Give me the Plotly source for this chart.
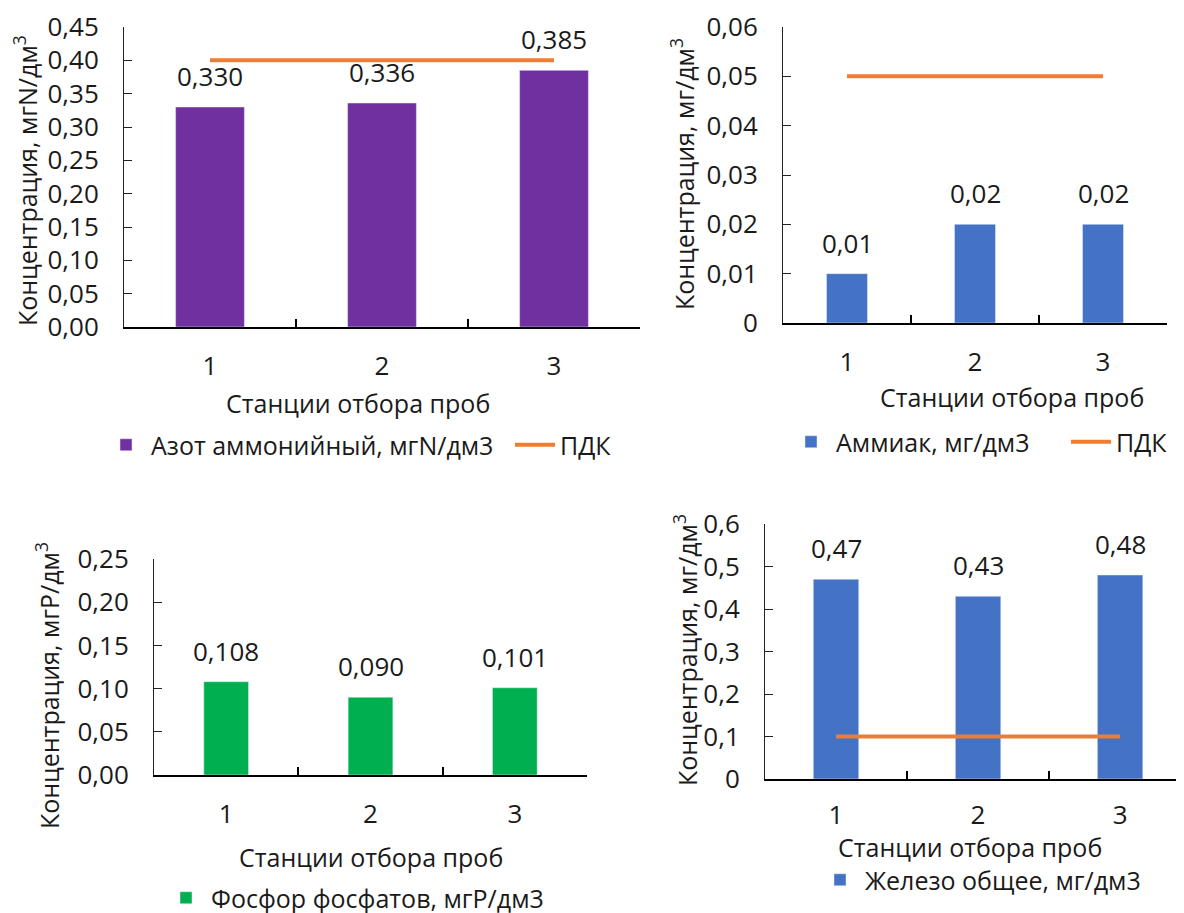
import plotly.graph_objects as go

# page body has an 8px margin, so figure is drawn 8px right/down of the window origin
OFF = 8
W, H = 1184 - OFF, 913 - OFF

stations = ["1", "2", "3"]
ammonium_n = [0.330, 0.336, 0.385]
ammonium_n_pdk = [0.40, 0.40, 0.40]
ammonia = [0.01, 0.02, 0.02]
ammonia_pdk = [0.05, 0.05, 0.05]
phosphate_p = [0.108, 0.090, 0.101]
iron_total = [0.47, 0.43, 0.48]
iron_pdk = [0.1, 0.1, 0.1]

FONT = "Open Sans"
FS = 25      # words
FN = 26      # numbers
TXT = "#1a1a1a"
PURPLE = "#7030A0"
BLUE = "#4472C4"
GREEN = "#00B050"
ORANGE = "#ED7D31"

def px_x(v):
    return (v - OFF) / W

def px_y(v):
    return 1 - (v - OFF) / H

fig = go.Figure()

# chart 1
fig.add_trace(go.Bar(x=stations, y=ammonium_n, name="Азот аммонийный, мгN/дм3",
                     marker_color=PURPLE, width=0.40, xaxis="x", yaxis="y", legend="legend"))
fig.add_trace(go.Scatter(x=stations, y=ammonium_n_pdk, name="ПДК", mode="lines",
                         line=dict(color=ORANGE, width=4), xaxis="x", yaxis="y", legend="legend"))
# chart 2
fig.add_trace(go.Bar(x=stations, y=ammonia, name="Аммиак, мг/дм3",
                     marker_color=BLUE, width=0.32, xaxis="x2", yaxis="y2", legend="legend2"))
fig.add_trace(go.Scatter(x=stations, y=ammonia_pdk, name="ПДК", mode="lines",
                         line=dict(color=ORANGE, width=4), xaxis="x2", yaxis="y2", legend="legend2"))
# chart 3
fig.add_trace(go.Bar(x=stations, y=phosphate_p, name="Фосфор фосфатов, мгР/дм3",
                     marker_color=GREEN, width=0.31, xaxis="x3", yaxis="y3", legend="legend3"))
# chart 4
fig.add_trace(go.Bar(x=stations, y=iron_total, name="Железо общее, мг/дм3",
                     marker_color=BLUE, width=0.32, xaxis="x4", yaxis="y4", legend="legend4"))
fig.add_trace(go.Scatter(x=stations, y=iron_pdk, name="ПДК", mode="lines", showlegend=False,
                         line=dict(color=ORANGE, width=4), xaxis="x4", yaxis="y4", legend="legend4"))

panels = [
    # suffix, x px domain, y px (top,bottom), y max, dtick, tickformat, xrange
    ("", (124, 640), (27, 327), 0.45, 0.05, ".2f", [-0.5, 2.5]),
    ("2", (783, 1167), (27, 323), 0.06, 0.01, "", [-0.5, 2.5]),
    ("3", (154, 587), (559, 775), 0.25, 0.05, ".2f", [-0.5, 2.5]),
    ("4", (765, 1184), (524, 779), 0.6, 0.1, "", [-0.5, 2.45]),
]

layout = dict(
    width=W, height=H, margin=dict(l=0, r=0, t=0, b=0, pad=0, autoexpand=False),
    paper_bgcolor="white", plot_bgcolor="white",
    separators=", ", font=dict(family=FONT, size=FS, color=TXT),
    showlegend=True, bargap=0.6,
)

for suf, (x0, x1), (yt, yb), ymax, dt, tf, xr in panels:
    ax = "x" + suf
    ay = "y" + suf
    layout["xaxis" + suf] = dict(
        domain=[px_x(x0), min(1.0, px_x(x1))], anchor=ay, type="category", range=xr,
        showline=True, linecolor="#000", linewidth=2, ticks="inside", ticklen=8,
        tickwidth=1.5, tickcolor="#000", tickson="boundaries", showgrid=False,
        zeroline=False, ticklabelstandoff=12 if suf == "4" else 15,
        tickfont=dict(size=FN, color=TXT), ticklabeloverflow="allow",
        fixedrange=True, automargin=False,
    )
    layout["yaxis" + suf] = dict(
        domain=[px_y(yb), px_y(yt)], anchor=ax, range=[0, ymax * 1.000001], dtick=dt, tick0=0,
        tickformat=tf, showline=True, linecolor="#222", linewidth=1, ticks="inside",
        ticklen=8, tickwidth=1, tickcolor="#222", showgrid=False, zeroline=False,
        ticklabelstandoff=19, tickfont=dict(size=FN, color=TXT), ticklabeloverflow="allow",
        fixedrange=True, automargin=False,
    )

legend_common = dict(orientation="h", bgcolor="rgba(0,0,0,0)", font=dict(size=FS, color=TXT),
                     xanchor="left", yanchor="middle", itemwidth=40, traceorder="normal")
layout["legend"] = dict(legend_common, x=px_x(101), y=px_y(445), entrywidth=354,
                        entrywidthmode="pixels")
layout["legend2"] = dict(legend_common, x=px_x(786), y=px_y(442), entrywidth=225,
                         entrywidthmode="pixels")
layout["legend3"] = dict(legend_common, x=px_x(161), y=px_y(898))
layout["legend4"] = dict(legend_common, x=px_x(815), y=px_y(880))

fig.update_layout(**layout)

# data labels
def fmt(v, d):
    return f"{v:.{d}f}".replace(".", ",")

label_sets = [("", ammonium_n, 3), ("2", ammonia, 2), ("3", phosphate_p, 3), ("4", iron_total, 2)]
for suf, vals, d in label_sets:
    for i, v in enumerate(vals):
        fig.add_annotation(x=i, y=v, xref="x" + suf, yref="y" + suf, text=fmt(v, d),
                           showarrow=False, yanchor="bottom", yshift=11,
                           font=dict(size=FN, color=TXT))

# axis titles
ytitle = [("Концентрация, мгN/дм<sup>3</sup>", 25, 181),
          ("Концентрация, мг/дм<sup>3</sup>", 682, 174),
          ("Концентрация, мгР/дм<sup>3</sup>", 47, 686),
          ("Концентрация, мг/дм<sup>3</sup>", 685, 650)]
for t, x, y in ytitle:
    fig.add_annotation(text=t, x=px_x(x), y=px_y(y), xref="paper", yref="paper",
                       textangle=-90, showarrow=False, xanchor="center", yanchor="middle",
                       font=dict(size=FS, color=TXT))

xtitle = [(358, 403), (1012, 397), (371, 857), (970, 847)]
for x, y in xtitle:
    fig.add_annotation(text="Станции отбора проб", x=px_x(x), y=px_y(y), xref="paper", yref="paper",
                       showarrow=False, xanchor="center", yanchor="middle",
                       font=dict(size=FS, color=TXT))

fig.write_html("out.html")
